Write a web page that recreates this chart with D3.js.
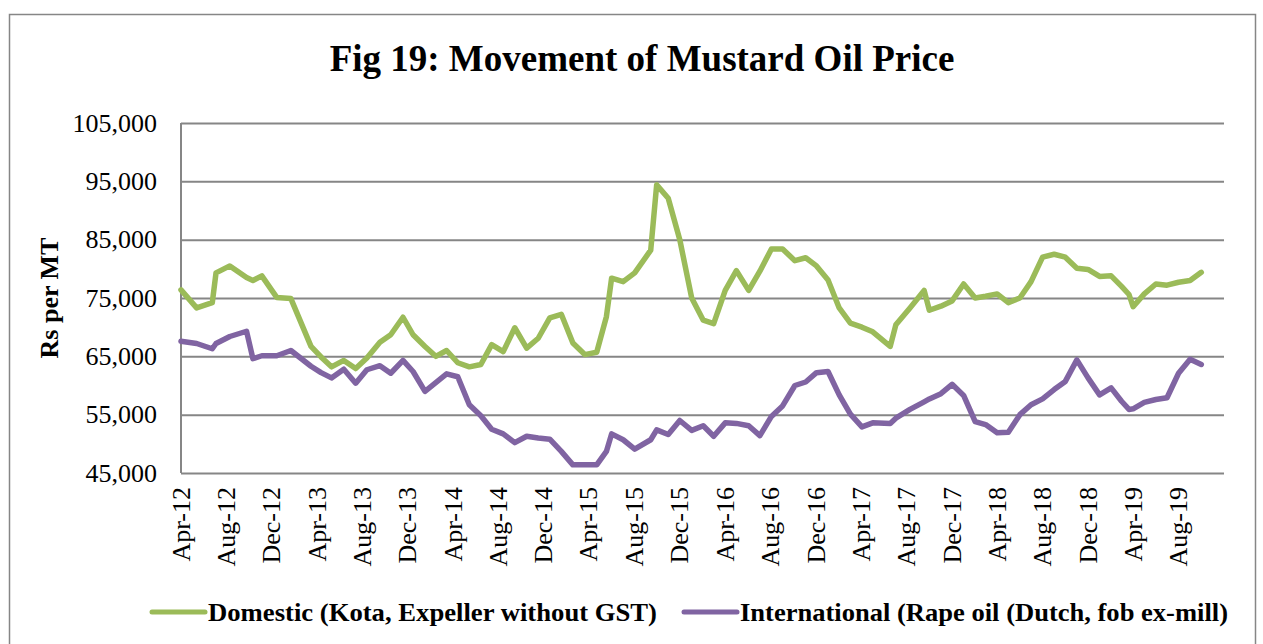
<!DOCTYPE html>
<html>
<head>
<meta charset="utf-8">
<script src="https://cdn.jsdelivr.net/npm/d3@7"></script>
<style>
  html, body { margin: 0; padding: 0; background: #fff; }
  svg { display: block; }
  text { font-family: "Liberation Serif", "Times New Roman", serif; fill: #000; }
</style>
</head>
<body>
<svg id="chart" width="1263" height="644"></svg>
<script>
// observation dates, shared by both series
var dates = [
  "2012-04-01","2012-05-13","2012-06-24","2012-07-04","2012-08-10","2012-09-24","2012-10-11","2012-11-04","2012-12-14",
  "2013-01-21","2013-03-16","2013-04-12","2013-05-10","2013-06-12","2013-07-14","2013-08-13","2013-09-17","2013-10-16","2013-11-18","2013-12-15",
  "2014-01-16","2014-02-14","2014-03-15","2014-04-14","2014-05-15","2014-06-15","2014-07-14","2014-08-14","2014-09-14","2014-10-16","2014-11-16","2014-12-17",
  "2015-01-17","2015-02-17","2015-03-21","2015-04-22","2015-05-18","2015-06-01","2015-07-02","2015-08-02","2015-09-14","2015-09-30","2015-10-31","2015-12-01",
  "2016-01-02","2016-02-02","2016-03-01","2016-04-01","2016-05-01","2016-06-03","2016-07-03","2016-08-03","2016-09-02","2016-10-05","2016-11-03","2016-12-02",
  "2017-01-02","2017-02-01","2017-03-03","2017-04-03","2017-05-02","2017-06-18","2017-07-03","2017-08-10","2017-09-17","2017-10-01","2017-11-01","2017-12-01",
  "2018-01-01","2018-02-01","2018-03-01","2018-04-01","2018-05-01","2018-06-01","2018-07-01","2018-08-01","2018-09-01","2018-10-01","2018-11-01","2018-12-01",
  "2019-01-01","2019-02-01","2019-03-01","2019-03-21","2019-04-01","2019-05-01","2019-06-01","2019-07-01","2019-08-01","2019-09-01","2019-10-01"
];

var domestic = [
  76400,73300,74200,79300,80500,78500,78000,78800,75100,
  74900,66700,64900,63200,64300,62900,64700,67400,68700,71700,68700,
  66700,65000,66000,63900,63200,63600,67000,65800,69900,66400,68100,71600,
  72200,67300,65300,65700,71800,78400,77800,79300,83200,94400,92100,85000,
  75000,71200,70600,76300,79700,76300,79600,83400,83400,81400,81900,80500,
  78100,73300,70700,70000,69200,66700,70400,73300,76300,72900,73600,74500,
  77400,75000,75300,75700,74200,75000,77800,82000,82500,82000,80100,79900,
  78700,78800,77000,75600,73500,75700,77400,77200,77700,78000,79400
];

var international = [
  67600,67200,66300,67200,68400,69300,64600,65100,65100,
  66000,63300,62200,61300,62800,60400,62700,63400,62100,64300,62400,
  59000,60500,62000,61500,56700,54800,52500,51700,50200,51300,51000,50800,
  48700,46400,46400,46400,48700,51700,50700,49100,50700,52400,51600,54000,
  52300,53100,51300,53600,53500,53100,51400,54700,56500,60000,60600,62200,
  62400,58400,55100,52900,53600,53500,54400,55900,57200,57700,58600,60200,
  58300,53800,53300,51900,52000,55000,56700,57700,59300,60700,64400,61300,
  58400,59600,57300,55900,56000,57100,57600,57900,62100,64500,63600
];

var seriesNames = ["Domestic (Kota, Expeller without GST)", "International (Rape oil (Dutch, fob ex-mill)"];
var seriesColors = ["#9BBB59", "#8064A2"];
var yTicks = [45000, 55000, 65000, 75000, 85000, 95000, 105000];
var axisRange = ["2012-04-01", "2019-12-01"];

var parse = d3.timeParse("%Y-%m-%d");
var svg = d3.select("#chart");

var plot = {left: 181, right: 1224, top: 123, bottom: 473};

var x = d3.scaleTime()
    .domain(axisRange.map(parse))
    .range([plot.left, plot.right]);
var y = d3.scaleLinear()
    .domain([45000, 105000])
    .range([plot.bottom, plot.top]);

// outer frame
svg.append("rect")
    .attr("x", 9.5).attr("y", 14.5)
    .attr("width", 1246).attr("height", 660)
    .attr("fill", "none").attr("stroke", "#868686").attr("stroke-width", 1.5);

// title
svg.append("text")
    .attr("x", 642).attr("y", 71)
    .attr("text-anchor", "middle")
    .style("font-size", "37px").style("font-weight", "bold")
    .text("Fig 19: Movement of Mustard Oil Price");

// gridlines + y labels
var yAxis = d3.axisLeft(y).tickValues(yTicks).tickFormat(d3.format(",")).tickSize(-(plot.right - plot.left)).tickPadding(24);
var gy = svg.append("g").attr("transform", "translate(" + plot.left + ",0)").call(yAxis);
gy.select(".domain").remove();
gy.selectAll(".tick line").attr("stroke", "#868686").attr("stroke-width", 2);
gy.selectAll(".tick text").style("font-size", "26px").attr("fill", "#000");

// left axis line
svg.append("line")
    .attr("x1", plot.left).attr("x2", plot.left)
    .attr("y1", plot.top).attr("y2", plot.bottom)
    .attr("stroke", "#868686").attr("stroke-width", 2);

// y axis title
svg.append("text")
    .attr("transform", "translate(58," + ((plot.top + plot.bottom) / 2) + ") rotate(-90)")
    .attr("text-anchor", "middle")
    .style("font-size", "26px").style("font-weight", "bold")
    .text("Rs per MT");

// x labels, every 4 months
var xTicks = d3.timeMonth.range(parse(axisRange[0]), parse(axisRange[1]), 4);
var fmt = d3.timeFormat("%b-%y");
svg.append("g").selectAll("text")
    .data(xTicks)
    .join("text")
    .attr("transform", function(d) { return "translate(" + x(d) + ",487) rotate(-90)"; })
    .attr("dy", "0.33em")
    .attr("text-anchor", "end")
    .style("font-size", "26px")
    .text(function(d) { return fmt(d); });

// lines
var line = d3.line()
    .x(function(d) { return x(d[0]); })
    .y(function(d) { return y(d[1]); });

[domestic, international].forEach(function(values, k) {
    var pts = dates.map(function(s, i) { return [parse(s), values[i]]; });
    svg.append("path")
        .datum(pts)
        .attr("d", line)
        .attr("fill", "none")
        .attr("stroke", seriesColors[k])
        .attr("stroke-width", 5.5)
        .attr("stroke-linejoin", "round")
        .attr("stroke-linecap", "round");
});

// legend
var legendItems = [
    {x1: 152, x2: 205, tx: 208, w: 449},
    {x1: 684, x2: 737, tx: 740, w: 488}
];
legendItems.forEach(function(it, k) {
    svg.append("line")
        .attr("x1", it.x1).attr("x2", it.x2)
        .attr("y1", 612).attr("y2", 612)
        .attr("stroke", seriesColors[k]).attr("stroke-width", 5)
        .attr("stroke-linecap", "round");
    svg.append("text")
        .attr("x", it.tx).attr("y", 621)
        .attr("textLength", it.w).attr("lengthAdjust", "spacingAndGlyphs")
        .style("font-size", "26px").style("font-weight", "bold")
        .text(seriesNames[k]);
});
</script>
</body>
</html>
